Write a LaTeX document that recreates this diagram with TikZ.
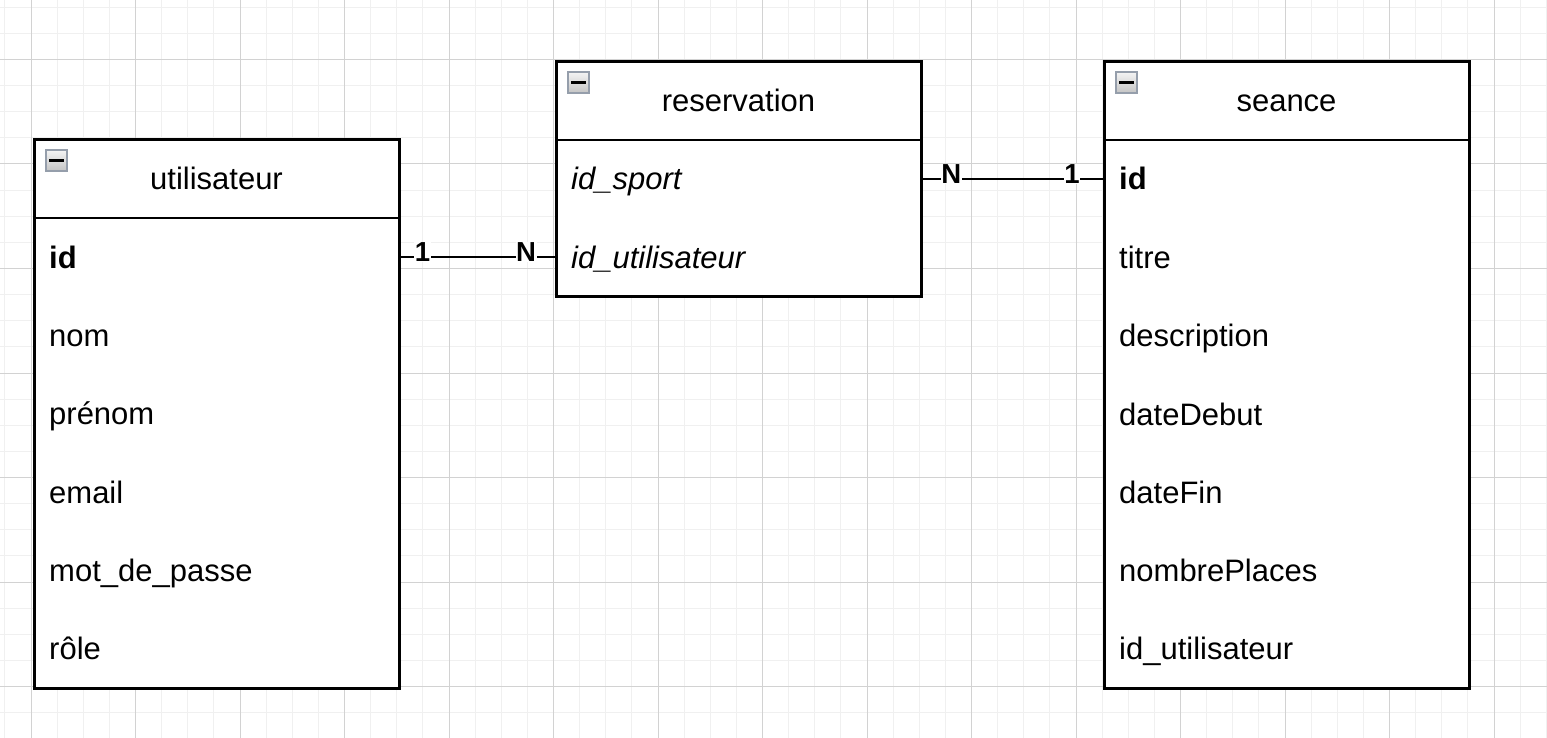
\documentclass[tikz,border=0pt]{standalone}
\usepackage{fontspec}
\setmainfont{Liberation Sans}
\usetikzlibrary{calc}
\definecolor{minorgrid}{HTML}{F0F0F0}
\definecolor{majorgrid}{HTML}{D2D2D2}
\definecolor{iconborder}{HTML}{959EAB}
\definecolor{icontop}{HTML}{F4F4F4}
\definecolor{iconbot}{HTML}{C4C4C4}
\tikzset{
  ent/.style={draw=black, line width=3pt, anchor=north west, minimum width=365pt, inner sep=0pt, outer sep=0pt, fill=white},
  div/.style={draw=black, line width=2.4pt},
  ttl/.style={font=\fontsize{31}{37}\selectfont, inner sep=0pt, text height=22pt, text depth=0pt},
  row/.style={font=\fontsize{31}{37}\selectfont, anchor=west, inner sep=0pt, text height=22pt, text depth=0pt},
  icon/.style={draw=iconborder, line width=2pt, top color=icontop, bottom color=iconbot, minimum size=21pt, inner sep=0pt, outer sep=0pt, anchor=north west},
  conn/.style={draw=black, line width=2.6pt},
  card/.style={font=\fontsize{27.5}{32}\selectfont\bfseries, fill=white, inner sep=0.6pt, yshift=5pt}
}
\newcommand{\entityicon}[2]{%
  \node[icon] (#2) at ([xshift=12pt,yshift=-10pt]#1.north west) {};
  \draw[line width=2.5pt] ([xshift=-7.5pt]#2.center) -- ([xshift=7.5pt]#2.center);
}
\begin{document}
\begin{tikzpicture}[x=1pt,y=-1pt]
\useasboundingbox (0,0) rectangle (1547,738);
\fill[white] (0,0) rectangle (1547,738);
% grid
\foreach \i in {-1,...,59} {
  \draw[minorgrid, line width=1pt] ({31+\i*26.125},0) -- ({31+\i*26.125},738);
}
\foreach \j in {-3,...,26} {
  \draw[minorgrid, line width=1pt] (0,{59.5+\j*26.125}) -- (1547,{59.5+\j*26.125});
}
\foreach \i in {0,...,14} {
  \draw[majorgrid, line width=1pt] ({31+\i*104.5},0) -- ({31+\i*104.5},738);
}
\foreach \j in {0,...,6} {
  \draw[majorgrid, line width=1pt] (0,{59.5+\j*104.5}) -- (1547,{59.5+\j*104.5});
}

% utilisateur
\node[ent, minimum height=548pt] (u) at (34,140) {};
\draw[div] ([yshift=-78pt]u.north west) -- ([yshift=-78pt]u.north east);
\node[ttl] (ut) at ([yshift=-39pt]u.north) {utilisateur};
\entityicon{u}{ui}
\node[row] (u1) at ([xshift=15pt,yshift=-117pt]u.north west) {\textbf{id}};
\node[row] (u2) at ([xshift=15pt,yshift=-195pt]u.north west) {nom};
\node[row] (u3) at ([xshift=15pt,yshift=-273pt]u.north west) {prénom};
\node[row] (u4) at ([xshift=15pt,yshift=-352pt]u.north west) {email};
\node[row] (u5) at ([xshift=15pt,yshift=-430pt]u.north west) {mot\_de\_passe};
\node[row] (u6) at ([xshift=15pt,yshift=-508pt]u.north west) {rôle};

% reservation
\node[ent, minimum height=234pt] (r) at (556,62) {};
\draw[div] ([yshift=-78pt]r.north west) -- ([yshift=-78pt]r.north east);
\node[ttl] (rt) at ([yshift=-39pt]r.north) {reservation};
\entityicon{r}{ri}
\node[row] (r1) at ([xshift=15pt,yshift=-117pt]r.north west) {\itshape id\_sport};
\node[row] (r2) at ([xshift=15pt,yshift=-195pt]r.north west) {\itshape id\_utilisateur};

% seance
\node[ent, minimum height=626pt] (s) at (1104,62) {};
\draw[div] ([yshift=-78pt]s.north west) -- ([yshift=-78pt]s.north east);
\node[ttl] (st) at ([yshift=-39pt]s.north) {seance};
\entityicon{s}{si}
\node[row] (s1) at ([xshift=15pt,yshift=-117pt]s.north west) {\textbf{id}};
\node[row] (s2) at ([xshift=15pt,yshift=-195pt]s.north west) {titre};
\node[row] (s3) at ([xshift=15pt,yshift=-273pt]s.north west) {description};
\node[row] (s4) at ([xshift=15pt,yshift=-352pt]s.north west) {dateDebut};
\node[row] (s5) at ([xshift=15pt,yshift=-430pt]s.north west) {dateFin};
\node[row] (s6) at ([xshift=15pt,yshift=-508pt]s.north west) {nombrePlaces};
\node[row] (s7) at ([xshift=15pt,yshift=-586pt]s.north west) {id\_utilisateur};

% connectors
\draw[conn] (u1.west -| u.east) -- node[card, pos=0.15] {1} node[card, pos=0.81] {N} (r2.west -| r.west);
\draw[conn] (r1.west -| r.east) -- node[card, pos=0.165] {N} node[card, pos=0.825] {1} (s1.west -| s.west);
\end{tikzpicture}
\end{document}
